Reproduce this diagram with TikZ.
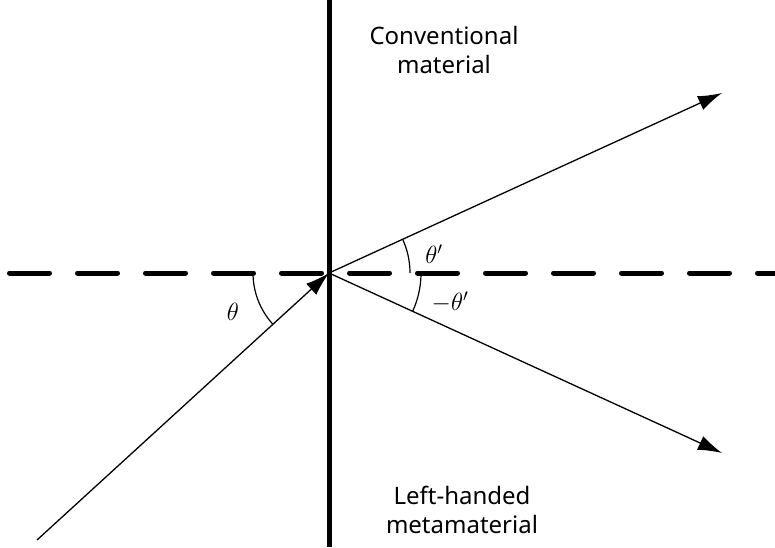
\documentclass[tikz,border=0pt]{standalone}
\usepackage{fontspec}
\setmainfont{Noto Sans}
\usetikzlibrary{positioning, calc, arrows.meta}

\begin{document}
\begin{tikzpicture}[x=1pt,y=-1pt,
    ray/.style={line width=1.3pt, -{Latex[length=24pt,width=15pt]}},
    mat/.style={font=\fontsize{24}{29}\selectfont, align=center},
    ang/.style={font=\fontsize{25}{27}\selectfont}]
        \useasboundingbox (0,0) rectangle (775,547);

        % Interface and normal
        \coordinate (O) at (329,273);
        \coordinate (top) at (329,0);
        \coordinate (bot) at (329,547);
        \coordinate (nl) at (9.5,273);
        \coordinate (nr) at (790,273);
        \draw[line width=5pt] (top) -- (bot);
        \draw[line width=5pt, line cap=round, dash pattern=on 40pt off 28pt] (nl) -- (nr);

        % Rays
        \coordinate (src) at (37,540);
        \coordinate (up) at (722,93);
        \coordinate (down) at (722,453);
        \draw[ray] (src) -- (O);
        \draw[ray] (O) -- (up);
        \draw[ray] (O) -- (down);

        % Angles
        \draw[line width=1.2pt] ($(O)+(-76,0)$) arc[start angle=180, end angle=222.4, radius=76pt];
        \draw[line width=1.2pt] ($(O)+(81,0)$) arc[start angle=0, end angle=24.6, radius=81pt];
        \draw[line width=1.2pt] ($(O)+(92,0)$) arc[start angle=0, end angle=-24.6, radius=92pt];
        \node[ang] (th) at (233,312) {$\theta$};
        \node[ang] (thp) at (434,254) {$\theta'$};
        \node[ang] (mthp) at (450,302) {$-\theta'$};

        % Media
        \node[mat] (conv) at (444,50) {Conventional\\material};
        \node[mat] (lhm) at (462,510) {Left-handed\\metamaterial};
    \end{tikzpicture}
\end{document}
